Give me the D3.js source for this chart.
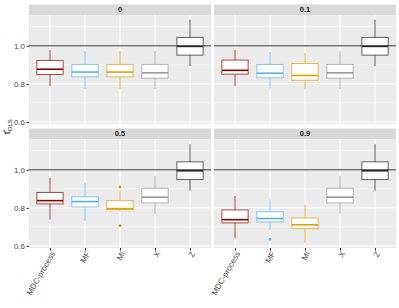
<!DOCTYPE html>
<html>
<head>
<meta charset="utf-8">
<script src="https://cdn.jsdelivr.net/npm/d3@7"></script>
<style>
  body { margin: 0; background: #fff; }
  text { font-family: "Liberation Sans", Arial, sans-serif; }
</style>
</head>
<body>
<script>
const width = 399;
const height = 308;

// panel labels (rho) and methods
const facets = ['0', '0.1', '0.5', '0.9'];
const methods = ['MDC-process', 'MF', 'MI', 'X', 'Z'];
const colors = ['#8B0000', '#56B4E9', '#E69F00', '#9a9a9a', '#222222'];
const yTicks = [0.6, 0.8, 1.0];

// five-number summaries per facet, order: [lower whisker, q1, median, q3, upper whisker]
const stats0 = [
  [0.788, 0.849, 0.877, 0.923, 0.977],
  [0.774, 0.837, 0.862, 0.902, 0.972],
  [0.774, 0.837, 0.862, 0.902, 0.972],
  [0.774, 0.830, 0.858, 0.902, 0.972],
  [0.893, 0.951, 0.997, 1.044, 1.137]
];
const stats01 = [
  [0.788, 0.851, 0.871, 0.925, 0.979],
  [0.776, 0.832, 0.856, 0.902, 0.967],
  [0.772, 0.819, 0.844, 0.907, 0.963],
  [0.774, 0.830, 0.858, 0.902, 0.970],
  [0.893, 0.951, 0.997, 1.044, 1.137]
];
const stats05 = [
  [0.738, 0.821, 0.838, 0.881, 0.958],
  [0.731, 0.805, 0.833, 0.858, 0.933],
  [0.784, 0.791, 0.796, 0.838, 0.889],
  [0.770, 0.826, 0.856, 0.903, 0.968],
  [0.891, 0.949, 0.995, 1.042, 1.135]
];
const stats09 = [
  [0.640, 0.721, 0.738, 0.789, 0.863],
  [0.682, 0.726, 0.744, 0.779, 0.844],
  [0.616, 0.691, 0.711, 0.747, 0.816],
  [0.770, 0.826, 0.856, 0.903, 0.968],
  [0.891, 0.949, 0.995, 1.042, 1.135]
];
const allStats = [stats0, stats01, stats05, stats09];

// outliers: [method index, value]
const outliers0 = [];
const outliers01 = [];
const outliers05 = [[2, 0.910], [2, 0.707]];
const outliers09 = [[1, 0.635]];
const allOutliers = [outliers0, outliers01, outliers05, outliers09];

const panels = [
  { x0: 29, x1: 211, y0: 15, y1: 124 },
  { x0: 214, x1: 396, y0: 15, y1: 124 },
  { x0: 29, x1: 211, y0: 139, y1: 248 },
  { x0: 214, x1: 396, y0: 139, y1: 248 }
];

const svg = d3.select('body').append('svg')
  .attr('width', width)
  .attr('height', height);

panels.forEach((p, i) => {
  const g = svg.append('g');
  const x = d3.scalePoint().domain(methods).range([p.x0, p.x1]).padding(0.6);
  const y = d3.scaleLinear().domain([0.589, 1.162]).range([p.y1, p.y0]);
  const bw = x.step() * 0.75;

  // strip
  g.append('rect')
    .attr('x', p.x0).attr('y', p.y0 - 10.5)
    .attr('width', p.x1 - p.x0).attr('height', 10.5)
    .attr('fill', '#D9D9D9');
  g.append('text')
    .attr('x', (p.x0 + p.x1) / 2).attr('y', p.y0 - 5.2)
    .attr('dy', '0.35em')
    .attr('text-anchor', 'middle')
    .attr('font-size', 7.5).attr('font-weight', 'bold')
    .attr('fill', '#1A1A1A')
    .text(facets[i]);

  // panel background + grid
  g.append('rect')
    .attr('x', p.x0).attr('y', p.y0)
    .attr('width', p.x1 - p.x0).attr('height', p.y1 - p.y0)
    .attr('fill', '#EBEBEB');
  [0.7, 0.9, 1.1].forEach((v) => {
    g.append('line')
      .attr('x1', p.x0).attr('x2', p.x1)
      .attr('y1', y(v)).attr('y2', y(v))
      .attr('stroke', '#fff').attr('stroke-width', 0.5);
  });
  yTicks.forEach((v) => {
    g.append('line')
      .attr('x1', p.x0).attr('x2', p.x1)
      .attr('y1', y(v)).attr('y2', y(v))
      .attr('stroke', '#fff').attr('stroke-width', 1);
  });
  methods.forEach((m) => {
    g.append('line')
      .attr('x1', x(m)).attr('x2', x(m))
      .attr('y1', p.y0).attr('y2', p.y1)
      .attr('stroke', '#fff').attr('stroke-width', 1);
  });

  // boxes
  const boxes = g.selectAll('g.box')
    .data(allStats[i])
    .enter()
    .append('g')
    .attr('class', 'box');

  boxes.append('line')
    .attr('x1', (d, j) => x(methods[j])).attr('x2', (d, j) => x(methods[j]))
    .attr('y1', d => y(d[4])).attr('y2', d => y(d[0]))
    .attr('stroke', (d, j) => colors[j])
    .attr('stroke-opacity', 0.75)
    .attr('stroke-width', 1);
  boxes.append('rect')
    .attr('x', (d, j) => x(methods[j]) - bw / 2)
    .attr('y', d => y(d[3]))
    .attr('width', bw)
    .attr('height', d => y(d[1]) - y(d[3]))
    .attr('fill', '#fff')
    .attr('stroke', (d, j) => colors[j])
    .attr('stroke-opacity', 0.7)
    .attr('stroke-width', 1);
  boxes.append('line')
    .attr('x1', (d, j) => x(methods[j]) - bw / 2)
    .attr('x2', (d, j) => x(methods[j]) + bw / 2)
    .attr('y1', d => y(d[2])).attr('y2', d => y(d[2]))
    .attr('stroke', (d, j) => colors[j])
    .attr('stroke-width', 1.6);

  g.selectAll('circle.out')
    .data(allOutliers[i])
    .enter()
    .append('circle')
    .attr('cx', d => x(methods[d[0]]))
    .attr('cy', d => y(d[1]))
    .attr('r', 1.4)
    .attr('fill', d => colors[d[0]]);

  // reference line at 1
  g.append('line')
    .attr('x1', p.x0).attr('x2', p.x1)
    .attr('y1', y(1)).attr('y2', y(1))
    .attr('stroke', '#333').attr('stroke-width', 1);

  // y axis on left panels
  if (i % 2 === 0) {
    const ax = g.append('g')
      .attr('transform', `translate(${p.x0},0)`)
      .call(d3.axisLeft(y).tickValues(yTicks).tickFormat(d3.format('.1f')).tickSize(2.5).tickPadding(1.5));
    ax.select('.domain').remove();
    ax.selectAll('line').attr('stroke', '#333');
    ax.selectAll('text').attr('fill', '#4D4D4D').attr('font-size', 8)
      .style('font-family', '"Liberation Sans", Arial, sans-serif');
  }

  // x axis on bottom panels
  if (i >= 2) {
    const ax = g.append('g')
      .attr('transform', `translate(0,${p.y1})`)
      .call(d3.axisBottom(x).tickSize(2.5).tickFormat(''));
    ax.select('.domain').remove();
    ax.selectAll('line').attr('stroke', '#333');
    methods.forEach((m) => {
      g.append('text')
        .attr('transform', `translate(${x(m) + 3}, ${p.y1 + 4}) rotate(-60)`)
        .attr('text-anchor', 'end')
        .attr('dy', '0.35em')
        .attr('font-size', 8)
        .attr('fill', '#4D4D4D')
        .text(m);
    });
  }
});

// y axis title: tau hat with OLS subscript
const title = svg.append('text')
  .attr('transform', 'translate(10, 127) rotate(-90)')
  .attr('text-anchor', 'middle')
  .attr('fill', '#1A1A1A')
  .attr('font-size', 9);
title.append('tspan').text('\u03C4\u0302');
title.append('tspan').attr('font-size', 6).attr('dy', 2).text('OLS');
</script>
</body>
</html>
